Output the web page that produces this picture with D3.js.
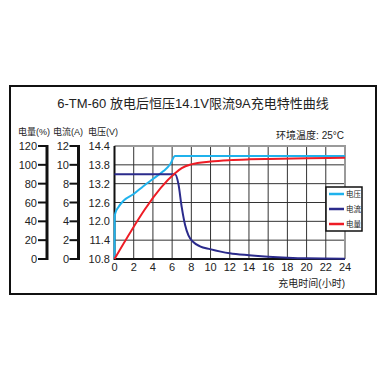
<!DOCTYPE html>
<html>
<head>
<meta charset="utf-8">
<script src="https://cdn.jsdelivr.net/npm/d3@7"></script>
<style>
body{margin:0;background:#fff;}
text{font-family:"Liberation Sans","Noto Sans CJK SC",sans-serif;fill:#222;}
</style>
</head>
<body>
<div id="vis-container"></div>
<script>
// data
let hours = [0,2,4,6,8,10,12,14,16,18,20,22,24];
let voltTicks = [10.8,11.4,12.0,12.6,13.2,13.8,14.4];
let currTicks = [0,2,4,6,8,10,12];
let capTicks = [0,20,40,60,80,100,120];

let voltT = [0,0.02,0.1,0.4,0.95,2,3,4,5.1,5.8,6.3,8,12,16,20,24];
let voltV = [10.8,12.15,12.27,12.45,12.66,12.87,13.12,13.35,13.6,13.82,14.08,14.08,14.08,14.08,14.08,14.08];

let currT = [0,6.3,6.65,7,7.35,7.7,8.2,8.9,9.95,12,14,16,18,20,24];
let currI = [9,9,8,5.5,3.6,2.5,1.8,1.35,1.05,0.6,0.4,0.25,0.14,0.07,0.03];

let capT = [0,6.3,7,8,10,12,14,16,20,24];
let capC = [0,91,96.5,100.5,103.5,105,105.8,106.3,107,107.6];

let legendNames = ["电压","电流","电量"];
let colors = ["#1fb2ec","#2b2b8c","#ee1c25"];

let w = 386;
let h = 390;

let svg = d3.select("#vis-container")
  .append("svg")
  .attr("width", w)
  .attr("height", h);

svg.append("rect").attr("width", w).attr("height", h).attr("fill", "#fff");

// outer frame
svg.append("rect")
  .attr("x", 10).attr("y", 86)
  .attr("width", 366).attr("height", 208)
  .attr("fill", "none").attr("stroke", "#111").attr("stroke-width", 2);

let x = d3.scaleLinear().domain([0,24]).range([114.5,345]);
let yV = d3.scaleLinear().domain([10.8,14.4]).range([259,146]);
let yI = d3.scaleLinear().domain([0,12]).range([259,146]);
let yC = d3.scaleLinear().domain([0,120]).range([259,146]);

svg.append("text")
  .attr("x", 193).attr("y", 108)
  .attr("text-anchor", "middle")
  .attr("font-size", 13)
  .text("6-TM-60 放电后恒压14.1V限流9A充电特性曲线");

// axis headers
let heads = [["电量(%)",18],["电流(A)",53],["电压(V)",88]];
for(let hd of heads){
  svg.append("text").attr("x", hd[1]).attr("y", 135)
    .attr("font-size", 9).text(hd[0]);
}

svg.append("text")
  .attr("x", 344).attr("y", 139)
  .attr("text-anchor", "end")
  .attr("font-size", 10)
  .text("环境温度: 25°C");

// grid
svg.selectAll("line.vg")
  .data(hours.slice(1,-1))
  .enter().append("line")
  .attr("x1", d=>x(d)).attr("x2", d=>x(d))
  .attr("y1", yV(14.4)).attr("y2", yV(10.8))
  .attr("stroke", "#333").attr("stroke-width", 1);

svg.selectAll("line.hg")
  .data(voltTicks.slice(1,-1))
  .enter().append("line")
  .attr("x1", x(0)).attr("x2", x(24))
  .attr("y1", d=>yV(d)).attr("y2", d=>yV(d))
  .attr("stroke", "#333").attr("stroke-width", 1);

// grey top / right frame
svg.append("path")
  .attr("d", `M${x(0)},${yV(14.4)}H${x(24)}V${yV(10.8)}`)
  .attr("fill", "none").attr("stroke", "#9a9a9a").attr("stroke-width", 2);

// black left / bottom
svg.append("path")
  .attr("d", `M${x(0)},${yV(14.4)}V${yV(10.8)}H${x(24)}`)
  .attr("fill", "none").attr("stroke", "#111").attr("stroke-width", 2);

// x labels
svg.selectAll("text.xl")
  .data(hours)
  .enter().append("text")
  .attr("x", d=>x(d)).attr("y", 271)
  .attr("text-anchor", "middle")
  .attr("font-size", 11)
  .text(d=>d);

svg.append("text")
  .attr("x", 345).attr("y", 287)
  .attr("text-anchor", "end")
  .attr("font-size", 10)
  .text("充电时间(小时)");

// voltage labels
svg.selectAll("text.vl")
  .data(voltTicks)
  .enter().append("text")
  .attr("x", 110).attr("y", d=>yV(d)+4)
  .attr("text-anchor", "end")
  .attr("font-size", 11)
  .text(d=>d.toFixed(1));

// bracket axes
function bracket(scale, ticks, barX, labelX){
  svg.append("line")
    .attr("x1", barX).attr("x2", barX)
    .attr("y1", scale(ticks[ticks.length-1])-1).attr("y2", scale(ticks[0])+1)
    .attr("stroke", "#111").attr("stroke-width", 3);
  svg.selectAll(null)
    .data(ticks)
    .enter().append("line")
    .attr("x1", barX-9).attr("x2", barX)
    .attr("y1", d=>scale(d)).attr("y2", d=>scale(d))
    .attr("stroke", "#111").attr("stroke-width", 2);
  svg.selectAll(null)
    .data(ticks)
    .enter().append("text")
    .attr("x", labelX).attr("y", d=>scale(d)+4)
    .attr("text-anchor", "end")
    .attr("font-size", 11)
    .text(d=>d);
}
bracket(yC, capTicks, 47, 37);
bracket(yI, currTicks, 78.5, 69);

// curves
let line = d3.line().curve(d3.curveMonotoneX);

let series = [
  voltT.map((t,i)=>[x(t), yV(voltV[i])]),
  currT.map((t,i)=>[x(t), yI(currI[i])]),
  capT.map((t,i)=>[x(t), yC(capC[i])])
];

svg.selectAll("path.curve")
  .data(series)
  .enter().append("path")
  .attr("d", d=>line(d))
  .attr("fill", "none")
  .attr("stroke", (d,i)=>colors[i])
  .attr("stroke-width", 2);

// legend
svg.append("rect")
  .attr("x", 326).attr("y", 187)
  .attr("width", 36).attr("height", 44)
  .attr("fill", "#fff").attr("stroke", "#111").attr("stroke-width", 1.5);

legendNames.forEach((n,i)=>{
  let ly = 194 + i*15;
  svg.append("line")
    .attr("x1", 329).attr("x2", 344)
    .attr("y1", ly).attr("y2", ly)
    .attr("stroke", colors[i]).attr("stroke-width", 2.5);
  svg.append("text")
    .attr("x", 346).attr("y", ly+3)
    .attr("font-size", 7.5)
    .text(n);
});
</script>
</body>
</html>
